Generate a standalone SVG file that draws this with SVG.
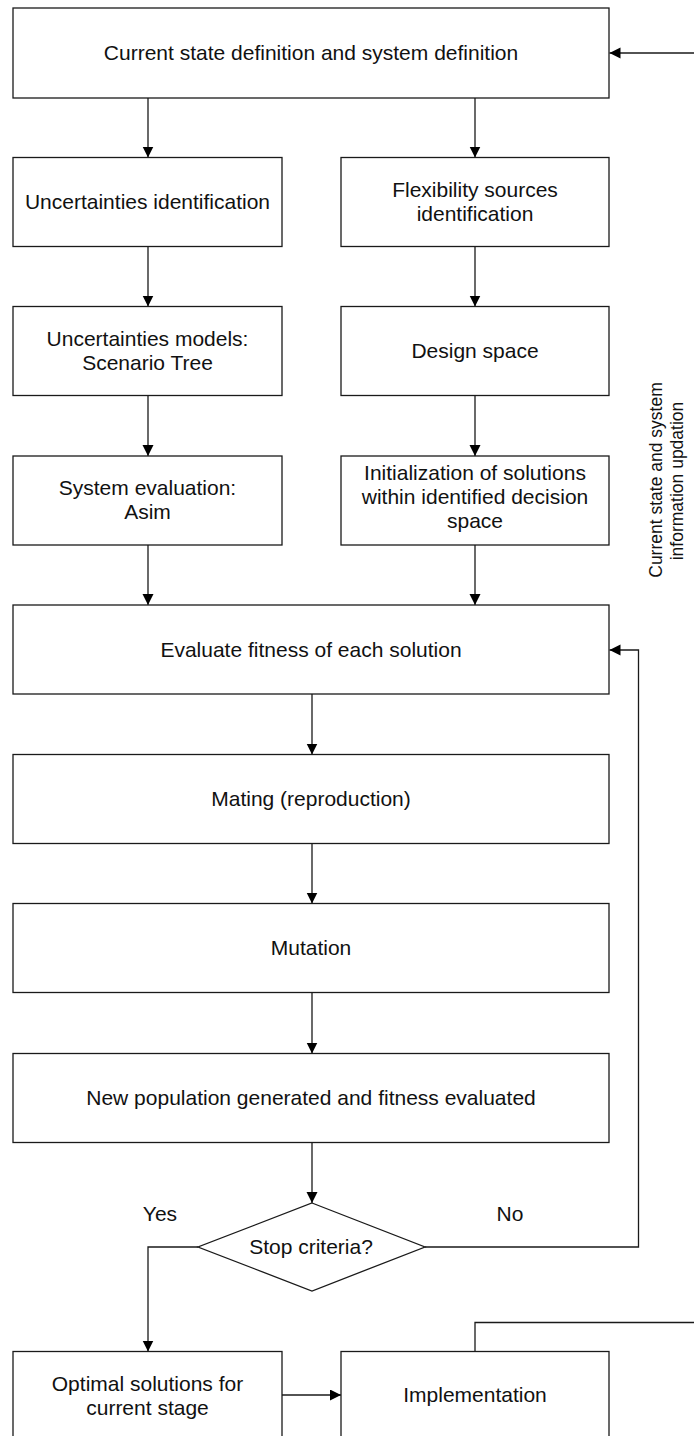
<svg xmlns="http://www.w3.org/2000/svg" width="694" height="1436" viewBox="0 0 694 1436">
  <style>
    .box { fill: #ffffff; stroke: #1a1a1a; stroke-width: 1.3; }
    .lbl { font-family: "Liberation Sans", Arial, sans-serif; font-size: 21px; fill: #111111; text-anchor: middle; }
    .side { font-family: "Liberation Sans", Arial, sans-serif; font-size: 17.5px; fill: #111111; text-anchor: middle; }
    .edge { fill: none; stroke: #1a1a1a; stroke-width: 1.3; }
    .arr { marker-end: url(#head); }
  </style>
  <defs>
    <marker id="head" markerUnits="userSpaceOnUse" markerWidth="12" markerHeight="12" refX="11" refY="5.5" orient="auto">
      <path d="M0,0 L11,5.5 L0,11 Z" fill="#000000"/>
    </marker>
  </defs>
  <rect width="694" height="1436" fill="#ffffff"/>

  <!-- connectors -->
  <g id="connectors">
    <line class="edge arr" x1="694" y1="53" x2="609.5" y2="53"/>
    <line class="edge arr" x1="148" y1="98" x2="148" y2="157.5"/>
    <line class="edge arr" x1="475" y1="98" x2="475" y2="157.5"/>
    <line class="edge arr" x1="148" y1="246.5" x2="148" y2="306.5"/>
    <line class="edge arr" x1="475" y1="246.5" x2="475" y2="306.5"/>
    <line class="edge arr" x1="148" y1="395.5" x2="148" y2="456"/>
    <line class="edge arr" x1="475" y1="395.5" x2="475" y2="456"/>
    <line class="edge arr" x1="148" y1="545" x2="148" y2="605"/>
    <line class="edge arr" x1="475" y1="545" x2="475" y2="605"/>
    <line class="edge arr" x1="312" y1="694" x2="312" y2="754.5"/>
    <line class="edge arr" x1="312" y1="843.5" x2="312" y2="903.5"/>
    <line class="edge arr" x1="312" y1="992.5" x2="312" y2="1053.5"/>
    <line class="edge arr" x1="312" y1="1142.5" x2="312" y2="1203"/>
    <!-- Yes branch -->
    <polyline class="edge arr" points="198,1247 148,1247 148,1351.5"/>
    <!-- No branch back to fitness evaluation -->
    <polyline class="edge arr" points="425,1247 638.5,1247 638.5,650 609.5,650"/>
    <!-- optimal solutions to implementation -->
    <line class="edge arr" x1="282" y1="1395" x2="341" y2="1395"/>
    <!-- feedback from implementation -->
    <polyline class="edge" points="475,1351.5 475,1322.5 694,1322.5"/>
  </g>

  <g id="n-current-state">
    <rect class="box" x="13" y="8" width="596" height="90"/>
    <text class="lbl" x="311" y="60">Current state definition and system definition</text>
  </g>

  <g id="n-uncert-id">
    <rect class="box" x="13" y="157.5" width="269" height="89"/>
    <text class="lbl" x="147.5" y="209">Uncertainties identification</text>
  </g>

  <g id="n-flex-sources">
    <rect class="box" x="341" y="157.5" width="268" height="89"/>
    <text class="lbl" x="475" y="197">Flexibility sources</text>
    <text class="lbl" x="475" y="221">identification</text>
  </g>

  <g id="n-uncert-models">
    <rect class="box" x="13" y="306.5" width="269" height="89"/>
    <text class="lbl" x="147.5" y="346">Uncertainties models:</text>
    <text class="lbl" x="147.5" y="370">Scenario Tree</text>
  </g>

  <g id="n-design-space">
    <rect class="box" x="341" y="306.5" width="268" height="89"/>
    <text class="lbl" x="475" y="358">Design space</text>
  </g>

  <g id="n-system-eval">
    <rect class="box" x="13" y="456" width="269" height="89"/>
    <text class="lbl" x="147.5" y="495">System evaluation:</text>
    <text class="lbl" x="147.5" y="519">Asim</text>
  </g>

  <g id="n-init-solutions">
    <rect class="box" x="341" y="456" width="268" height="89"/>
    <text class="lbl" x="475" y="480">Initialization of solutions</text>
    <text class="lbl" x="475" y="504">within identified decision</text>
    <text class="lbl" x="475" y="528">space</text>
  </g>

  <g id="n-eval-fitness">
    <rect class="box" x="13" y="605" width="596" height="89"/>
    <text class="lbl" x="311" y="657">Evaluate fitness of each solution</text>
  </g>

  <g id="n-mating">
    <rect class="box" x="13" y="754.5" width="596" height="89"/>
    <text class="lbl" x="311" y="806">Mating (reproduction)</text>
  </g>

  <g id="n-mutation">
    <rect class="box" x="13" y="903.5" width="596" height="89"/>
    <text class="lbl" x="311" y="955">Mutation</text>
  </g>

  <g id="n-new-population">
    <rect class="box" x="13" y="1053.5" width="596" height="89"/>
    <text class="lbl" x="311" y="1105">New population generated and fitness evaluated</text>
  </g>

  <g id="n-stop">
    <polygon class="box" points="312,1203 425,1247 312,1291 198,1247"/>
    <text class="lbl" x="311" y="1254">Stop criteria?</text>
  </g>

  <g id="branch-labels">
    <text class="lbl" x="160" y="1221">Yes</text>
    <text class="lbl" x="510" y="1221">No</text>
  </g>

  <g id="n-optimal">
    <rect class="box" x="13" y="1351.5" width="269" height="89"/>
    <text class="lbl" x="147.5" y="1391">Optimal solutions for</text>
    <text class="lbl" x="147.5" y="1415">current stage</text>
  </g>

  <g id="n-implementation">
    <rect class="box" x="341" y="1351.5" width="268" height="89"/>
    <text class="lbl" x="475" y="1402">Implementation</text>
  </g>

  <g id="update-label">
    <text class="side" transform="translate(662,480) rotate(-90)">Current state and system</text>
    <text class="side" transform="translate(683,481) rotate(-90)">information updation</text>
  </g>
</svg>
